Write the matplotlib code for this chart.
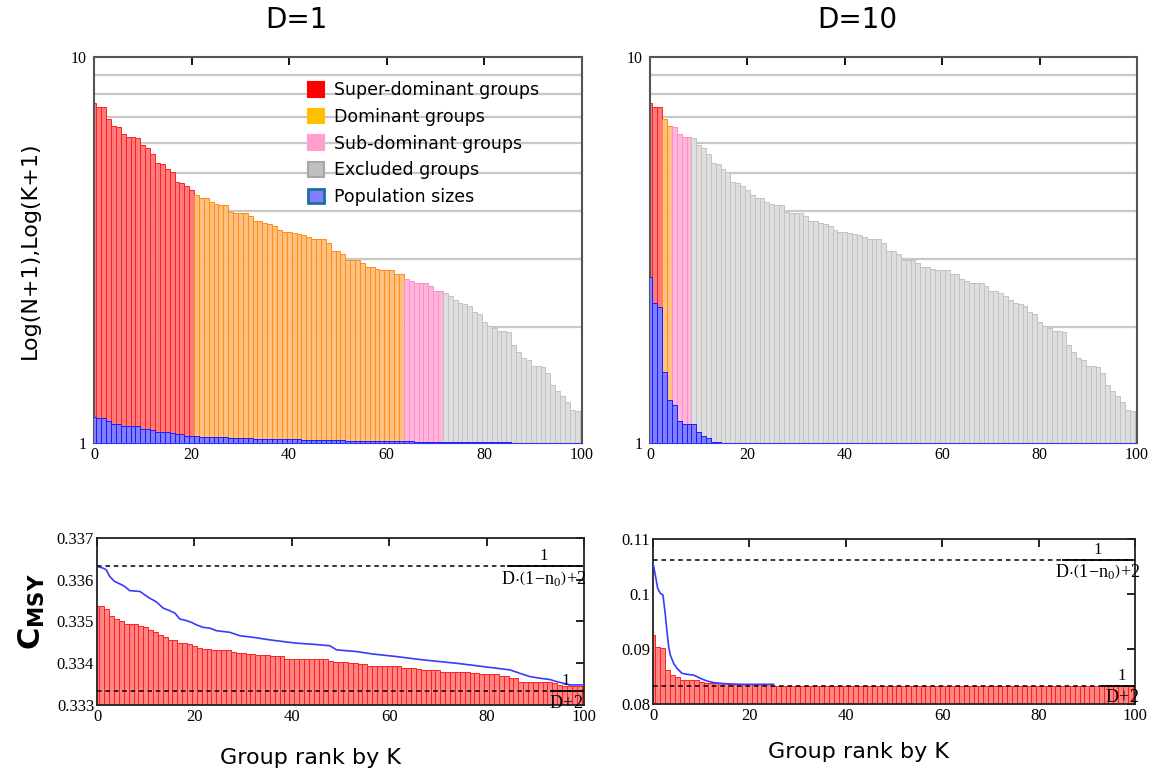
import numpy as np
import matplotlib
matplotlib.use("Agg")
import matplotlib.pyplot as plt
from matplotlib.patches import Patch
from matplotlib.ticker import NullFormatter

plt.rcParams['font.family'] = 'DejaVu Sans'
plt.rcParams['mathtext.fontset'] = 'custom'
plt.rcParams['mathtext.rm'] = 'Liberation Serif'
plt.rcParams['mathtext.it'] = 'Liberation Serif:italic'
plt.rcParams['mathtext.bf'] = 'DejaVu Sans:bold'

# group rank 0..100
rank = np.arange(101)

# K+1 for each group
k_plus_1 = [7.59, 7.41, 7.41, 6.92, 6.64, 6.59, 6.32, 6.22, 6.22, 6.18,
            5.92, 5.80, 5.60, 5.32, 5.27, 5.14, 5.04, 4.75, 4.71, 4.63,
            4.52, 4.39, 4.30, 4.30, 4.22, 4.17, 4.13, 4.13, 3.96, 3.94,
            3.94, 3.94, 3.87, 3.77, 3.75, 3.72, 3.69, 3.64, 3.56, 3.53,
            3.53, 3.51, 3.48, 3.45, 3.42, 3.38, 3.38, 3.38, 3.30, 3.14,
            3.14, 3.08, 2.98, 2.98, 2.98, 2.92, 2.85, 2.85, 2.83, 2.81,
            2.81, 2.81, 2.74, 2.74, 2.66, 2.63, 2.59, 2.59, 2.59, 2.55,
            2.48, 2.48, 2.45, 2.40, 2.35, 2.30, 2.29, 2.26, 2.19, 2.16,
            2.06, 2.01, 1.98, 1.95, 1.95, 1.94, 1.79, 1.72, 1.66, 1.64,
            1.58, 1.58, 1.57, 1.52, 1.41, 1.36, 1.32, 1.28, 1.22, 1.21,
            1.21]

# N+1 (population sizes)
n_plus_1_d1 = ([1.170] + [1.163] * 2 + [1.140] + [1.120] * 2 + [1.105] * 4
               + [1.089] * 2 + [1.081] + [1.068] * 3 + [1.061] + [1.053] * 2
               + [1.044] * 3 + [1.036] * 6 + [1.030] * 5 + [1.024] * 10
               + [1.018] * 9 + [1.012] * 14 + [1.006] * 20 + [1.0] * 15)
n_plus_1_d10 = ([2.688, 2.301, 2.251, 1.527, 1.292, 1.254, 1.142]
                + [1.120] * 3 + [1.068, 1.044, 1.028] + [1.008] * 2
                + [1.002] * 2 + [1.0] * 84)

# number of groups in each class
class_sizes_d1 = [21, 43, 8, 29]
class_sizes_d10 = [3, 2, 4, 92]
class_names = ['Super-dominant groups', 'Dominant groups',
               'Sub-dominant groups', 'Excluded groups']

# C_MSY per group
cmsy_d1 = ([0.33536, 0.33536, 0.33531, 0.33514, 0.33506, 0.33502]
           + [0.33494] * 3 + [0.33490, 0.33486, 0.33480, 0.33474, 0.33468,
                              0.33462] + [0.33456] * 2 + [0.33448] * 2
           + [0.33446, 0.33442, 0.33436] + [0.33434] * 2 + [0.33432] * 4
           + [0.33428] + [0.33424] * 2 + [0.33422] * 2 + [0.33420] * 3
           + [0.33418] * 3 + [0.33410] * 9 + [0.33406] + [0.33402] * 3
           + [0.33400] * 2 + [0.33398] * 2 + [0.33394] * 7 + [0.33388] * 3
           + [0.33386] + [0.33383] * 4 + [0.33380] * 3 + [0.33378] * 3
           + [0.33376] * 2 + [0.33374] * 4 + [0.33370] * 2 + [0.33365] * 2
           + [0.33356] * 7 + [0.33352, 0.33349] + [0.33346] * 2
           + [0.33345] * 3)
cmsy_d10 = ([0.09255, 0.09042, 0.09012, 0.08618, 0.08527, 0.08497]
            + [0.08436] * 4 + [0.08406] + [0.08376] * 5 + [0.08358] * 9
            + [0.08336] * 76)

line_x_d1 = [0, 1.2, 1.9, 2.6, 3.6, 4.7, 5.7, 6.7, 8.8, 9.8, 10.8, 12.2, 13.6,
             14.9, 16.0, 17.0, 18.4, 19.4, 20.4, 21.8, 23.2, 24.5, 27.3, 29.3,
             32.1, 35.5, 38.2, 41.0, 43.7, 47.8, 49.2, 53.3, 56.7, 61.5, 64.2,
             67.0, 70.4, 73.8, 76.6, 79.3, 82.1, 84.8, 86.8, 88.9, 91.0, 93.0,
             94.4, 95.8, 97.1, 100]
line_y_d1 = [0.33632, 0.33628, 0.33624, 0.33608, 0.33596, 0.33590, 0.33584,
             0.33574, 0.33572, 0.33564, 0.33556, 0.33547, 0.33532, 0.33526,
             0.33520, 0.33506, 0.33502, 0.33498, 0.33492, 0.33486, 0.33484,
             0.33478, 0.33474, 0.33466, 0.33462, 0.33456, 0.33452, 0.33448,
             0.33446, 0.33442, 0.33432, 0.33428, 0.33422, 0.33416, 0.33412,
             0.33408, 0.33404, 0.33400, 0.33396, 0.33392, 0.33388, 0.33384,
             0.33376, 0.33368, 0.33364, 0.33361, 0.33356, 0.33352, 0.33348,
             0.33348]
line_x_d10 = [0, 0.48, 0.97, 1.52, 2.07, 2.56, 2.90, 3.25, 3.59, 4.28, 4.98,
              6.01, 7.05, 8.43, 9.81, 11.2, 12.6, 14.65, 18.1, 25.0]
line_y_d10 = [0.10558, 0.10345, 0.10103, 0.10012, 0.09982, 0.09618, 0.09315,
              0.09042, 0.08891, 0.08739, 0.08648, 0.08558, 0.08539, 0.08527,
              0.08467, 0.08418, 0.08388, 0.08370, 0.08358, 0.08358]

bounds_d1 = [0.33632, 0.33333]
bounds_d10 = [0.1062, 0.08333]

fills = ['#ff7a7a', '#ffc080', '#ffb6da', '#dedede']
edges = ['#ff2020', '#ff8c1a', '#ff8cc6', '#c2c2c2']
legend_cols = ['#ff0000', '#ffc000', '#ff9fcf', '#bfbfbf']
legend_edges = ['#ff0000', '#ffc000', '#ff9fcf', '#a6a6a6']
serif = 'Liberation Serif'


def style_ticklabels(ax, size=12):
    for lbl in ax.get_xticklabels() + ax.get_yticklabels():
        lbl.set_fontfamily(serif)
        lbl.set_fontsize(size)


def top_panel(ax, sizes, n1):
    cls = np.repeat(np.arange(4), sizes)
    k1 = np.array(k_plus_1)
    for c in range(4):
        m = cls == c
        ax.bar(rank[m], k1[m] - 1, bottom=1, width=1, color=fills[c],
               edgecolor=edges[c], linewidth=0.7, zorder=2)
    n1 = np.array(n1)
    ax.bar(rank, n1 - 1, bottom=1, width=1, color='#8080ff',
           edgecolor='#1a1aff', linewidth=0.7, zorder=3)
    ax.set_yscale('log')
    ax.set_ylim(1, 10)
    ax.set_xlim(0, 100)
    ax.set_yticks([1, 10])
    ax.set_yticklabels(['1', '10'])
    ax.set_yticks(range(2, 10), minor=True)
    ax.yaxis.set_minor_formatter(NullFormatter())
    ax.grid(True, which='minor', axis='y', color='#c8c8c8', lw=1.6)
    ax.set_axisbelow(True)
    ax.tick_params(axis='y', which='both', length=0, pad=5)
    ax.set_xticks(range(0, 101, 20))
    ax.tick_params(axis='x', top=True, bottom=False, direction='in',
                   length=6, width=1.3, pad=3)
    for s in ['left', 'top', 'right']:
        ax.spines[s].set_color('#555555')
        ax.spines[s].set_linewidth(1.5)
    ax.spines['bottom'].set_color('#3333ff')
    style_ticklabels(ax, 11.5)


def fraction(ax, y, x0, x1, xc, denom):
    tr = ax.get_yaxis_transform()
    ax.hlines(y, x0, x1, transform=tr, color='black', lw=1.3, zorder=5)
    ax.annotate('1', xy=(xc, y), xycoords=tr, xytext=(0, 1.5),
                textcoords='offset points', ha='center', va='bottom',
                fontfamily=serif, fontsize=12, zorder=6)
    ax.annotate(denom, xy=(xc, y), xycoords=tr, xytext=(0, -2),
                textcoords='offset points', ha='center', va='top',
                fontsize=13, zorder=6, annotation_clip=False)


def bottom_panel(ax, cm, lx, ly, bounds, ylim, yticks, ylabels, pos):
    ax.bar(rank, cm, width=1, color='#ff8585', edgecolor='#ff2020',
           linewidth=0.7, zorder=2)
    ax.plot(lx, ly, color='#3a3aff', lw=1.2, zorder=3)
    for b in bounds:
        ax.axhline(b, color='black', ls=(0, (3, 2.5)), lw=1.1, zorder=4)
    ax.set_xlim(0, 100)
    ax.set_ylim(*ylim)
    ax.set_yticks(yticks)
    ax.set_yticklabels(ylabels)
    ax.set_xticks(range(0, 101, 20))
    ax.tick_params(axis='x', top=True, bottom=False, direction='in',
                   length=6, width=1.2, pad=3)
    ax.tick_params(axis='y', left=False, right=True, direction='in',
                   length=6, width=1.2, pad=2)
    for s in ax.spines.values():
        s.set_color('#222222')
        s.set_linewidth(1.3)
    style_ticklabels(ax)
    fraction(ax, bounds[0], pos[0], pos[1], pos[2],
             r'$\mathrm{D\!\cdot\!\left(1\!-\!n_0\right)\!+\!2}$')
    fraction(ax, bounds[1], pos[3], 1.0, pos[4], r'$\mathrm{D\!+\!2}$')


W, H = 1161, 780
fig = plt.figure(figsize=(W / 100, H / 100), dpi=100)


def box(x0, y0, x1, y1):
    return [x0 / W, 1 - y1 / H, (x1 - x0) / W, (y1 - y0) / H]


ax1 = fig.add_axes(box(94, 57, 582, 443))
ax2 = fig.add_axes(box(650, 57, 1137, 443))
ax3 = fig.add_axes(box(97, 538, 584, 705))
ax4 = fig.add_axes(box(653, 539, 1135, 704))

top_panel(ax1, class_sizes_d1, n_plus_1_d1)
top_panel(ax2, class_sizes_d10, n_plus_1_d10)

handles = [Patch(facecolor=legend_cols[i], edgecolor=legend_edges[i], lw=1.5)
           for i in range(4)]
handles.append(Patch(facecolor='#8080ff', edgecolor='#1f6f9f', lw=2))
ax1.legend(handles, class_names + ['Population sizes'], loc='upper left',
           bbox_to_anchor=(0.425, 0.955), frameon=False, fontsize=12.5,
           handlelength=0.9, handleheight=0.9, handletextpad=0.55,
           labelspacing=0.5, borderaxespad=0)

bottom_panel(ax3, cmsy_d1, line_x_d1, line_y_d1, bounds_d1,
             (0.333, 0.337), [0.333, 0.334, 0.335, 0.336, 0.337],
             ['0.333', '0.334', '0.335', '0.336', '0.337'],
             (0.842, 0.998, 0.918, 0.93, 0.963))
bottom_panel(ax4, cmsy_d10, line_x_d10, line_y_d10, bounds_d10,
             (0.08, 0.11), [0.08, 0.09, 0.10, 0.11],
             ['0.08', '0.09', '0.1', '0.11'],
             (0.849, 0.996, 0.923, 0.93, 0.973))

fig.text(296 / W, 1 - 20 / H, 'D=1', fontsize=20, ha='center', va='center')
fig.text(857 / W, 1 - 20 / H, 'D=10', fontsize=20, ha='center', va='center')
fig.text(30 / W, 1 - 250 / H, 'Log(N+1),Log(K+1)', fontsize=16,
         rotation=90, ha='center', va='center')
fig.text(32 / W, 1 - 612 / H, r'$\mathbf{C}_{\mathbf{MSY}}$', fontsize=22,
         rotation=90, ha='center', va='center')
fig.text(310 / W, 1 - 758 / H, 'Group rank by K', fontsize=16,
         ha='center', va='center')
fig.text(858 / W, 1 - 752 / H, 'Group rank by K', fontsize=16,
         ha='center', va='center')

fig.savefig('out.png', dpi=100)
